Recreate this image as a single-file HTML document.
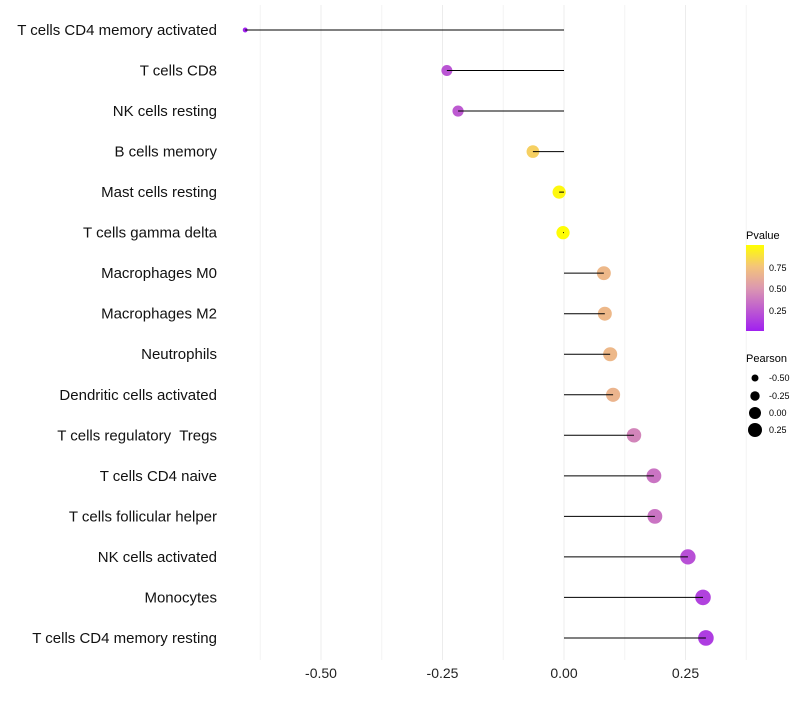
<!DOCTYPE html>
<html><head><meta charset="utf-8"><style>
body{margin:0;background:#fff;font-family:"Liberation Sans",sans-serif}
</style></head><body>
<svg id="chart" width="800" height="700" xmlns="http://www.w3.org/2000/svg" font-family="Liberation Sans, sans-serif">
<defs><linearGradient id="pg" x1="0" y1="1" x2="0" y2="0">
<stop offset="0" stop-color="#a020f0"/><stop offset="0.5" stop-color="#dc98b0"/><stop offset="0.75" stop-color="#f4c47a"/><stop offset="1" stop-color="#ffff00"/></linearGradient></defs>
<g id="grid"></g>
<g id="marks"></g>
<g id="labels"></g>
<g id="xticks"></g>
<g>
<text x="746" y="239" font-size="11">Pvalue</text>
<rect x="746" y="245" width="18" height="86" fill="url(#pg)"/>
<text x="769" y="271" font-size="9">0.75</text>
<text x="769" y="292" font-size="9">0.50</text>
<text x="769" y="314" font-size="9">0.25</text>
</g>
<g>
<text x="746" y="362" font-size="11">Pearson</text>
<circle cx="755" cy="378" r="3.5"/><text x="769" y="381" font-size="9">-0.50</text>
<circle cx="755" cy="396" r="4.7"/><text x="769" y="399" font-size="9">-0.25</text>
<circle cx="755" cy="413" r="6"/><text x="769" y="416" font-size="9">0.00</text>
<circle cx="755" cy="430" r="7"/><text x="769" y="433" font-size="9">0.25</text>
</g>
</svg>
<script>
const cells=["T cells CD4 memory activated","T cells CD8","NK cells resting","B cells memory","Mast cells resting","T cells gamma delta","Macrophages M0","Macrophages M2","Neutrophils","Dendritic cells activated","T cells regulatory  Tregs","T cells CD4 naive","T cells follicular helper","NK cells activated","Monocytes","T cells CD4 memory resting"];
const pearson=[-0.656,-0.241,-0.218,-0.064,-0.010,-0.002,0.082,0.084,0.095,0.101,0.144,0.185,0.187,0.255,0.286,0.292];
const pvalue=[0.01,0.22,0.24,0.80,0.97,0.99,0.68,0.68,0.68,0.66,0.42,0.35,0.35,0.2,0.14,0.12];
const tickVals=[-0.5,-0.25,0,0.25];
const tickLabels=["-0.50","-0.25","0.00","0.25"];
const NS="http://www.w3.org/2000/svg";
const x=v=>564+v*486;
const y=i=>30+i*40.53;
function mk(t,a,p){const e=document.createElementNS(NS,t);for(const k in a)e.setAttribute(k,a[k]);p.appendChild(e);return e;}
function lerp(a,b,t){return a.map((v,i)=>Math.round(v+(b[i]-v)*t));}
function col(p){const s=[[0,[160,32,240]],[0.5,[220,152,176]],[0.75,[244,196,122]],[1,[255,255,0]]];
for(let i=1;i<s.length;i++){if(p<=s[i][0]){const c=lerp(s[i-1][1],s[i][1],(p-s[i-1][0])/(s[i][0]-s[i-1][0]));return `rgb(${c})`;}}return "rgb(255,255,0)";}
const r=v=>Math.sqrt(Math.max(1.5,44+58*v));
const grid=document.getElementById('grid'),marks=document.getElementById('marks'),labels=document.getElementById('labels'),xt=document.getElementById('xticks');
for(let k=-5;k<=3;k++){const v=k*0.125;const g=mk('line',{x1:x(v),x2:x(v),y1:5,y2:660,stroke:(k%2===0)?'#ececec':'#f4f4f4','stroke-width':1},grid);

}
tickVals.forEach((v,i)=>{const t=mk('text',{x:x(v),y:678,'font-size':14,'text-anchor':'middle',fill:'#222'},xt);t.textContent=tickLabels[i];

});
cells.forEach((c,i)=>{
const t=mk('text',{x:217,y:y(i)+5,'font-size':15,'text-anchor':'end',fill:'#111','xml:space':'preserve'},labels);t.textContent=c;
t.style.whiteSpace='pre';


const p=mk('circle',{cx:x(pearson[i]),cy:y(i),r:r(pearson[i]),fill:col(pvalue[i])},marks);


const l=mk('line',{x1:x(0),x2:x(pearson[i]),y1:y(i),y2:y(i),stroke:'#000','stroke-width':1},marks);


});
</script>
</body></html>
